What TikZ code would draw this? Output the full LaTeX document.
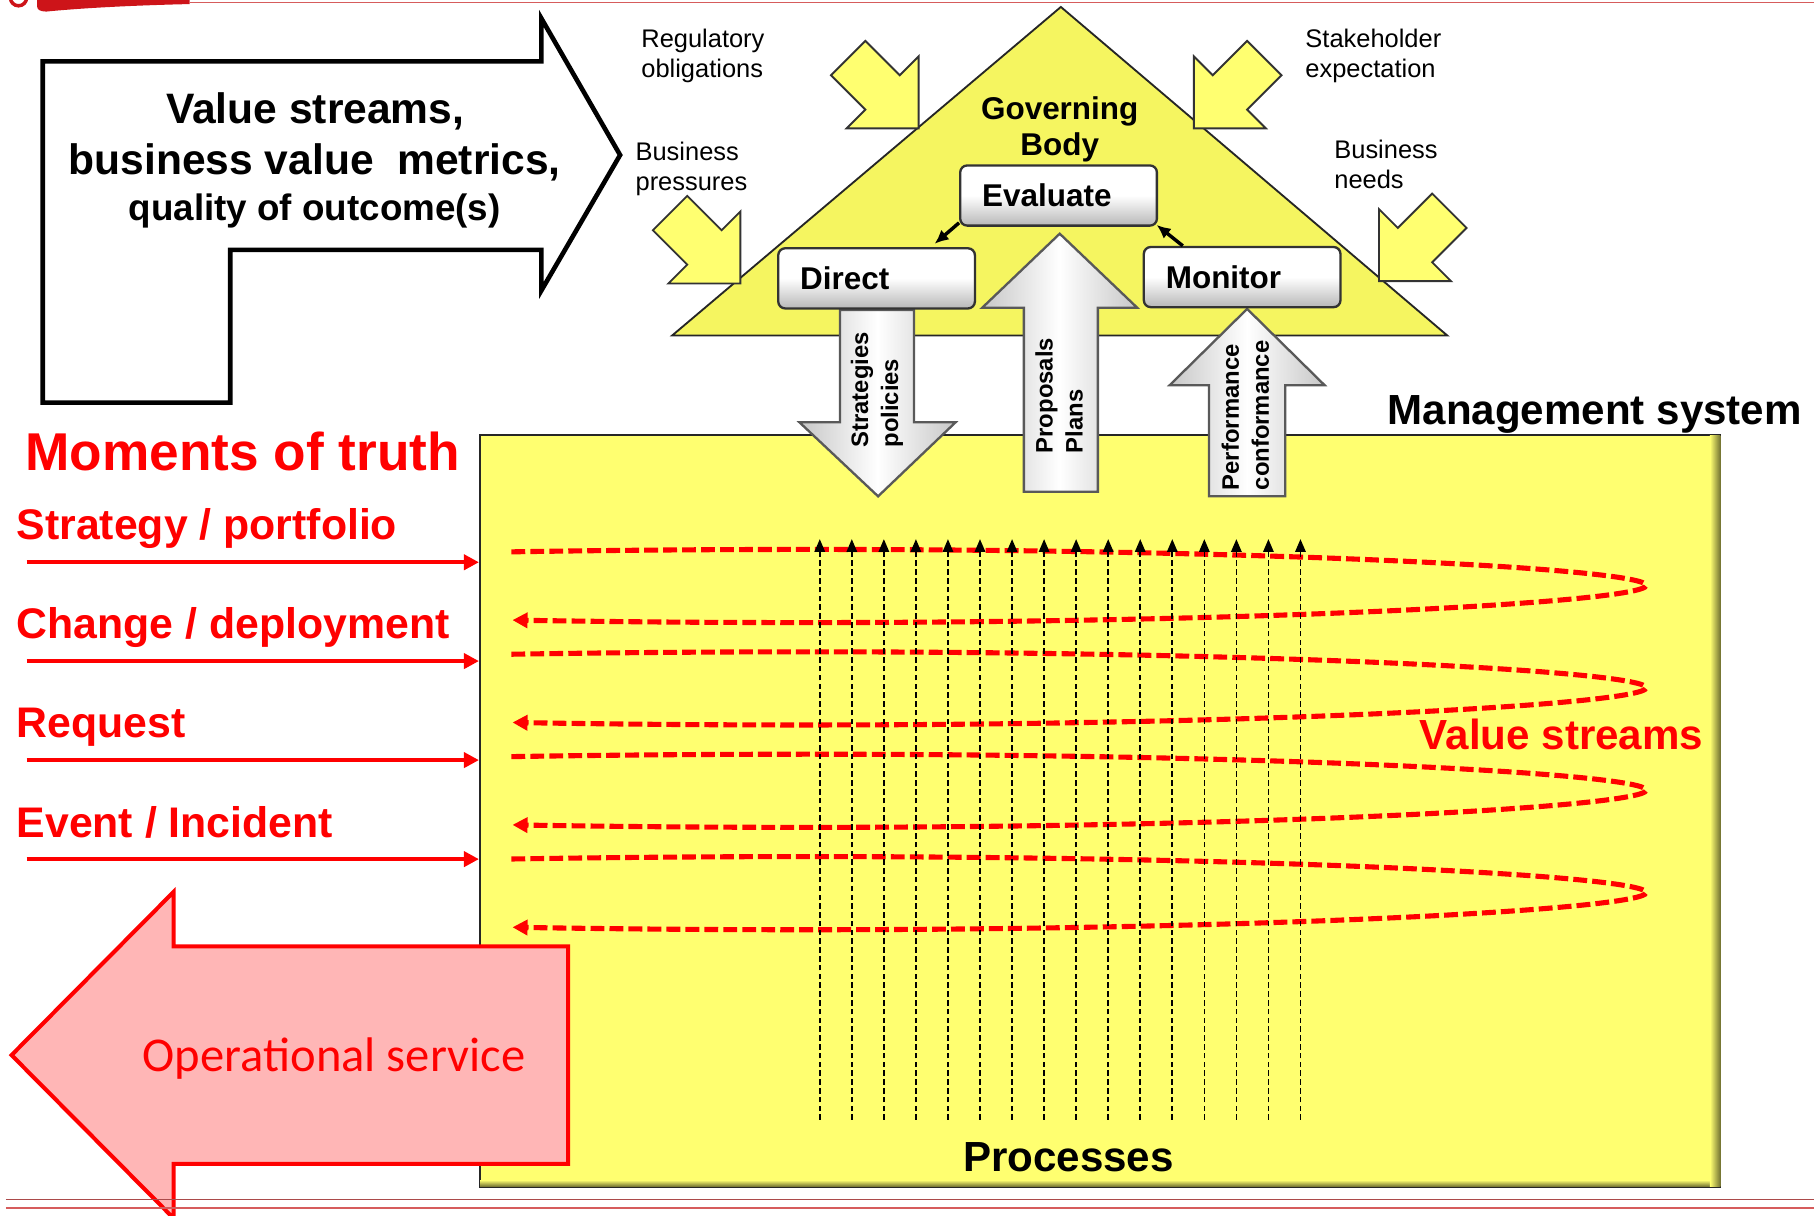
\documentclass[tikz,border=0pt]{standalone}
\usepackage{fontspec}
\setmainfont{Liberation Sans}
\newfontfamily\calfont{Carlito}
\usepackage{tikz}
\usetikzlibrary{arrows.meta}

\definecolor{ylw}{RGB}{255,255,112}
\definecolor{triylw}{RGB}{245,245,96}
\definecolor{opspink}{RGB}{255,182,182}
\definecolor{logored}{RGB}{205,20,25}
\definecolor{rulered}{RGB}{214,92,92}

\begin{document}
\begin{tikzpicture}[
    x=0.5pt, y=-0.5pt, >=Latex,
    govbox/.style={draw=black!80, line width=1pt, rounded corners=3pt,
      top color=white, bottom color=black!28, middle color=white,
      minimum width=85pt, minimum height=26pt, text width=66pt,
      inner xsep=9.5pt, align=left, font=\fontsize{13.6}{16}\selectfont\bfseries},
    govarrow/.style={-{Latex[length=6pt,width=5.5pt]}, line width=1.5pt},
    bigarrow/.style={draw=black!65, line width=1pt, line join=miter,
      left color=black!22, right color=black!22, middle color=white},
    arrowtxt/.style={rotate=90, align=left, inner sep=0pt,
      font=\fontsize{10.3}{13}\selectfont\bfseries},
    yarr/.style={fill=ylw, draw=black!80, line width=0.8pt},
    yarrow/.pic={\draw[yarr] (0,0) -- (-44,44) -- (-44,21) -- (-86,21)
      -- (-86,-21) -- (-44,-21) -- (-44,-44) -- cycle;},
    inlabel/.style={anchor=north west, align=left, inner sep=0pt,
      font=\fontsize{11}{13}\selectfont},
    bigtxt/.style={anchor=base west, inner sep=0pt,
      font=\fontsize{18.2}{22}\selectfont\bfseries},
    motlabel/.style={anchor=base west, inner sep=0pt, text=red,
      font=\fontsize{18.5}{22}\selectfont\bfseries},
    motarrow/.style={draw=red, line width=1.75pt,
      -{Triangle[length=6.5pt,width=6.5pt]}},
    vstream/.style={draw=red, line width=2.2pt, dash pattern=on 6pt off 2.2pt,
      -{Triangle[length=6.5pt,width=6.5pt]}},
    procline/.style={draw=black, line width=0.7pt, dash pattern=on 2.4pt off 1.4pt,
      -{Triangle[length=5.5pt,width=4.5pt]}}
  ]
    \useasboundingbox (0,0) rectangle (1568,1051);

    % logo strip and top rule
    \fill[logored] (32,0) -- (164,0) -- (164,3.5) .. controls (100,5) and (60,8) .. (40,10)
      .. controls (34,10) and (32,8) .. (32,5) -- cycle;
    \draw[logored, line width=1.5pt] (16,-2) circle (3.5pt);
    \draw[rulered, line width=0.6pt] (164,2) -- (1568,2);

    % value streams arrow
    \draw[line width=2pt, fill=white] (37,53) -- (468,53) -- (468,16) -- (536,134)
      -- (468,251) -- (468,216) -- (199,216) -- (199,348) -- (37,348) -- cycle;
    \node[anchor=base, inner sep=0pt, font=\fontsize{18.4}{22}\selectfont\bfseries]
      (vs1) at (272.5,106.6) {Value streams,};
    \node[anchor=base, inner sep=0pt, font=\fontsize{18.4}{22}\selectfont\bfseries]
      (vs2) at (272,150.4) {business value\ \ metrics,};
    \node[anchor=base, inner sep=0pt, font=\fontsize{15.9}{19}\selectfont\bfseries]
      (vs3) at (272,190.7) {quality of outcome(s)};

    % pressures
    \node[inlabel] (reg) at (554,24.5) {Regulatory\\obligations};
    \node[inlabel] (stake) at (1128,24.5) {Stakeholder\\expectation};
    \node[inlabel] (bpress) at (549,122) {Business\\pressures};
    \node[inlabel] (bneeds) at (1153,120.3) {Business\\needs};

    % governing body
    \draw[fill=triylw, draw=black!85, line width=0.8pt] (917,6) -- (1251,290) -- (581,290) -- cycle;
    \pic[rotate=-45] at (794,111) {yarrow};
    \pic[rotate=-45] at (640,245) {yarrow};
    \pic[rotate=-135] at (1032,111) {yarrow};
    \pic[rotate=-135] at (1192,243) {yarrow};
    \node[align=center, anchor=north, inner sep=0pt,
      font=\fontsize{13.6}{15.85}\selectfont\bfseries] (gov) at (916,83) {Governing\\Body};

    % management system
    \node[draw=black!85, line width=1pt, fill=ylw, minimum width=536pt,
      minimum height=325pt, inner sep=0pt] (mgmt) at (951,701) {};
    \shade[top color=ylw, bottom color=ylw!40!black]
      ([xshift=0.5pt,yshift=3.5pt]mgmt.south west) rectangle ([xshift=-0.5pt,yshift=0.5pt]mgmt.south east);
    \shade[left color=ylw, right color=ylw!45!black]
      ([xshift=-5pt,yshift=-0.5pt]mgmt.north east) rectangle ([xshift=-0.5pt,yshift=0.5pt]mgmt.south east);
    \node[bigtxt] (mgmtlbl) at (1199,367) {Management system};

    % block arrows between body and system
    \draw[bigarrow] (726,268) -- (790,268) -- (790,365) -- (826,365) -- (759,429)
      -- (691,365) -- (726,365) -- cycle;
    \draw[bigarrow] (885,425) -- (949,425) -- (949,266) -- (983,266) -- (916,202)
      -- (849,266) -- (885,266) -- cycle;
    \draw[bigarrow] (1045,429) -- (1111,429) -- (1111,333) -- (1145,333) -- (1078,267)
      -- (1011,333) -- (1045,333) -- cycle;
    \node[arrowtxt] (strat) at (758,337) {Strategies\\policies};
    \node[arrowtxt] (prop) at (915.5,342) {Proposals\\Plans};
    \node[arrowtxt] (perf) at (1076.5,359) {Performance\\conformance};

    % evaluate / direct / monitor
    \node[govbox] (ev) at (915,169) {Evaluate};
    \node[govbox] (dir) at (757.7,240.6) {Direct};
    \node[govbox] (mon) at (1073.7,239.5) {Monitor};
    \draw[govarrow] ([yshift=1.7pt]ev.south west) -- ([xshift=-17.9pt,yshift=1.45pt]dir.north east);
    \draw[govarrow] ([xshift=17.35pt]mon.north west) -- ([xshift=-0.6pt,yshift=0.8pt]ev.south east);

    % value streams
    \foreach \dy in {0,88.5,177,265.5}
      \draw[vstream] (442,477+\dy) .. controls (1000,468+\dy) and (1423,490+\dy) .. (1423,506+\dy)
        .. controls (1423,522+\dy) and (1000,545+\dy) .. (443,536+\dy);
    \foreach \i in {0,...,15}
      \draw[procline] (708.6+27.7*\i,968) -- (708.6+27.7*\i,466);
    \node[bigtxt, text=red] (vstxt) at (1227,648) {Value streams};
    \node[bigtxt] (proc) at (832,1013) {Processes};

    % moments of truth
    \node[motlabel, font=\fontsize{23}{27}\selectfont\bfseries] (mot) at (21.5,407) {Moments of truth};
    \node[motlabel] (mot1) at (14,466.7) {Strategy / portfolio};
    \node[motlabel] (mot2) at (14,552.2) {Change / deployment};
    \node[motlabel] (mot3) at (14,637.8) {Request};
    \node[motlabel] (mot4) at (14,723.5) {Event / Incident};
    \coordinate (a1) at (23,486);
    \coordinate (a2) at (23,571.4);
    \coordinate (a3) at (23,657);
    \coordinate (a4) at (23,742.6);
    \draw[motarrow] (a1) -- (a1 -| mgmt.west);
    \draw[motarrow] (a2) -- (a2 -| mgmt.west);
    \draw[motarrow] (a3) -- (a3 -| mgmt.west);
    \draw[motarrow] (a4) -- (a4 -| mgmt.west);

    % operational service
    \draw[fill=opspink, draw=red, line width=1.75pt] (10,912) -- (150,771) -- (150,818)
      -- (491,818) -- (491,1006) -- (150,1006) -- (150,1053) -- cycle;
    \node[anchor=base west, inner sep=0pt, text=red,
      font=\calfont\fontsize{21}{25}\selectfont] (ops) at (123,926) {Operational service};

    % bottom rules
    \draw[rulered!80!black, line width=0.6pt] (5,1037) -- (1568,1037);
    \draw[rulered, line width=0.8pt] (5,1044) -- (1568,1044);
\end{tikzpicture}
\end{document}
